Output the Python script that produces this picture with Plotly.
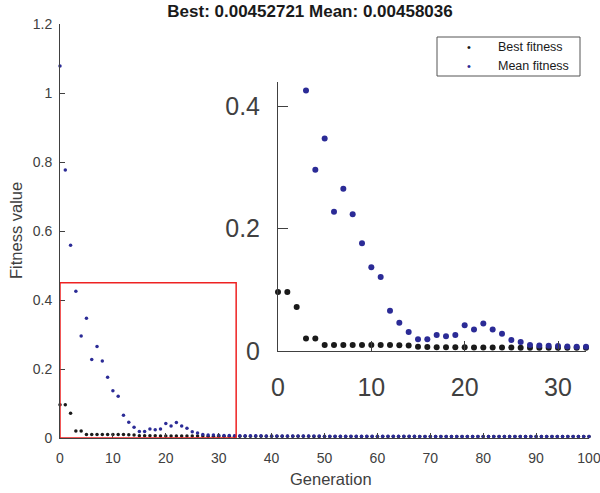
import plotly.graph_objects as go

generations = list(range(101))

best_fitness = [
    0.0965, 0.0965, 0.072, 0.0206, 0.0206, 0.0098, 0.0098, 0.0098, 0.0098, 0.0098,
    0.0098, 0.0098, 0.0098, 0.0095, 0.009, 0.0068, 0.0066, 0.0062, 0.0062, 0.006,
    0.006, 0.0058, 0.0058, 0.0057, 0.0057, 0.0056, 0.0055, 0.0055, 0.0054, 0.0054,
    0.0053, 0.0053, 0.0052, 0.0052, 0.0051, 0.0051, 0.0051, 0.0050, 0.0050, 0.0050,
    0.0049, 0.0049, 0.0049, 0.0049, 0.0048, 0.0048, 0.0048, 0.0048, 0.0047, 0.0047,
    0.0047, 0.0047, 0.0047, 0.0047, 0.0046, 0.0046, 0.0046, 0.0046, 0.0046, 0.0046,
    0.0046, 0.0046, 0.0046, 0.00458, 0.00458, 0.00457, 0.00457, 0.00457, 0.00456, 0.00456,
    0.00456, 0.00455, 0.00455, 0.00455, 0.00455, 0.00454, 0.00454, 0.00454, 0.00454, 0.00454,
    0.00453, 0.00453, 0.00453, 0.00453, 0.00453, 0.00453, 0.00453, 0.00453, 0.00453, 0.00453,
    0.00453, 0.00453, 0.00453, 0.00453, 0.00453, 0.00453, 0.004527, 0.004527, 0.004527, 0.004527,
    0.00452721,
]

mean_fitness = [
    1.078, 0.777, 0.559, 0.4255, 0.296, 0.347, 0.2276, 0.265, 0.2233, 0.176,
    0.137, 0.121, 0.0656, 0.046, 0.031, 0.019, 0.019, 0.026, 0.024, 0.026,
    0.042, 0.035, 0.045, 0.035, 0.028, 0.018, 0.0146, 0.010, 0.009, 0.0085,
    0.008, 0.0075, 0.007, 0.0068, 0.0066, 0.0065, 0.0064, 0.0063, 0.0062, 0.0061,
    0.0060, 0.0059, 0.0059, 0.0058, 0.0057, 0.0057, 0.0056, 0.0056, 0.0055, 0.0055,
    0.0054, 0.0054, 0.0053, 0.0053, 0.0052, 0.0052, 0.0051, 0.0051, 0.0050, 0.0050,
    0.0050, 0.0049, 0.0049, 0.0049, 0.0048, 0.0048, 0.0048, 0.0048, 0.0047, 0.0047,
    0.0047, 0.0047, 0.0047, 0.0047, 0.0046, 0.0046, 0.0046, 0.0046, 0.0046, 0.0046,
    0.0046, 0.0046, 0.0046, 0.0046, 0.0046, 0.0046, 0.0046, 0.0046, 0.0046, 0.0046,
    0.0046, 0.0046, 0.0046, 0.00459, 0.00459, 0.00459, 0.00459, 0.00458, 0.00458, 0.00458,
    0.00458036,
]

title_text = "Best: 0.00452721 Mean: 0.00458036"
series_names = ["Best fitness", "Mean fitness"]
main_xticks = [0, 10, 20, 30, 40, 50, 60, 70, 80, 90, 100]
main_yticks = [0, 0.2, 0.4, 0.6, 0.8, 1.0, 1.2]
inset_xticks = [0, 10, 20, 30]
inset_yticks = [0, 0.2, 0.4]
zoom_x = [0, 33.3]
zoom_y = [0, 0.45]
inset_xrange = [0, 33]
inset_yrange = [0, 0.44]

BEST_C = "#1a1a1a"
MEAN_C = "#2b2b96"
AX_C = "#404040"
FONT = "Liberation Sans, Arial, sans-serif"

# plot-area pixel geometry helpers (for paper-coordinate decorations)
L, R, T, B = 60, 11, 24, 55
PW, PH = 600 - L - R, 493 - T - B
def px(xp):
    return (xp - L) / PW
def py(yp):
    return (493 - B - yp) / PH

fig = go.Figure()

fig.add_trace(go.Scatter(x=generations, y=best_fitness, mode="markers", name=series_names[0],
                         marker=dict(color=BEST_C, size=3.5), cliponaxis=False,
                         xaxis="x", yaxis="y"))
fig.add_trace(go.Scatter(x=generations, y=mean_fitness, mode="markers", name=series_names[1],
                         marker=dict(color=MEAN_C, size=3.5), cliponaxis=False,
                         xaxis="x", yaxis="y"))

# inset: only the points inside the zoom window
ib = [(g, v) for g, v in zip(generations, best_fitness) if g <= inset_xrange[1] and v <= inset_yrange[1]]
im = [(g, v) for g, v in zip(generations, mean_fitness) if g <= inset_xrange[1] and v <= inset_yrange[1]]
fig.add_trace(go.Scatter(x=[p[0] for p in ib], y=[p[1] for p in ib], mode="markers",
                         marker=dict(color=BEST_C, size=6), showlegend=False, cliponaxis=False,
                         xaxis="x2", yaxis="y2"))
fig.add_trace(go.Scatter(x=[p[0] for p in im], y=[p[1] for p in im], mode="markers",
                         marker=dict(color=MEAN_C, size=6), showlegend=False, cliponaxis=False,
                         xaxis="x2", yaxis="y2"))

fig.add_shape(type="rect", xref="x", yref="y", x0=zoom_x[0], x1=zoom_x[1], y0=zoom_y[0], y1=zoom_y[1],
              line=dict(color="#ee2222", width=1.5))

axis_common = dict(showline=True, linecolor=AX_C, linewidth=1, ticks="inside", tickcolor=AX_C,
                   showgrid=False, zeroline=False, ticklabeloverflow="allow", automargin=False)

fig.update_layout(
    width=600, height=493,
    margin=dict(l=L, r=R, t=T, b=B, autoexpand=False),
    paper_bgcolor="white", plot_bgcolor="white",
    font=dict(family=FONT, color=AX_C),
    title=dict(text="<b>" + title_text + "</b>", x=px(310), xanchor="center", xref="paper",
               y=1 - 11 / 493, yanchor="middle", yref="container",
               font=dict(family=FONT, size=17, color="#1a1a1a")),
    xaxis=dict(range=[0, 100], tickvals=main_xticks, ticklen=5, ticklabelstandoff=7,
               tickfont=dict(family=FONT, color=AX_C, size=14), **axis_common),
    yaxis=dict(range=[0, 1.2], tickvals=main_yticks, ticktext=["0", "0.2", "0.4", "0.6", "0.8", "1", "1.2"],
               ticklen=5, ticklabelstandoff=4,
               tickfont=dict(family=FONT, color=AX_C, size=14), **axis_common),
    xaxis2=dict(domain=[px(278), px(586)], anchor="y2", range=inset_xrange,
                tickvals=inset_xticks, ticklen=10, ticklabelstandoff=14,
                tickfont=dict(family=FONT, color=AX_C, size=25), **axis_common),
    yaxis2=dict(domain=[py(351), py(81.7)], anchor="x2", range=inset_yrange,
                tickvals=inset_yticks, ticktext=["0", "0.2", "0.4"], ticklen=10, ticklabelstandoff=12,
                tickfont=dict(family=FONT, color=AX_C, size=25), **axis_common),
    showlegend=False,
)

# legend box (drawn by hand to match the compact MATLAB legend)
fig.add_shape(type="rect", xref="paper", yref="paper", x0=px(437), x1=px(580), y0=py(76), y1=py(37),
              line=dict(color="#555555", width=1), fillcolor="white", layer="above")
for name, col, yrow in zip(series_names, [BEST_C, MEAN_C], [46.5, 66]):
    fig.add_annotation(text="•", xref="paper", yref="paper", x=px(469), y=py(yrow),
                       xanchor="center", yanchor="middle", showarrow=False,
                       font=dict(family=FONT, size=11, color=col))
    fig.add_annotation(text=name, xref="paper", yref="paper", x=px(496), y=py(yrow),
                       xanchor="left", yanchor="middle", showarrow=False,
                       font=dict(family=FONT, size=12.5, color="#1a1a1a"))

fig.add_annotation(text="Generation", xref="paper", yref="paper", x=px(331), y=py(479),
                   xanchor="center", yanchor="middle", showarrow=False,
                   font=dict(family=FONT, size=16.5, color=AX_C))
fig.add_annotation(text="Fitness value", xref="paper", yref="paper", x=px(16), y=0.5,
                   xanchor="center", yanchor="middle", showarrow=False, textangle=-90,
                   font=dict(family=FONT, size=16.5, color=AX_C))

fig.write_html("out.html")
